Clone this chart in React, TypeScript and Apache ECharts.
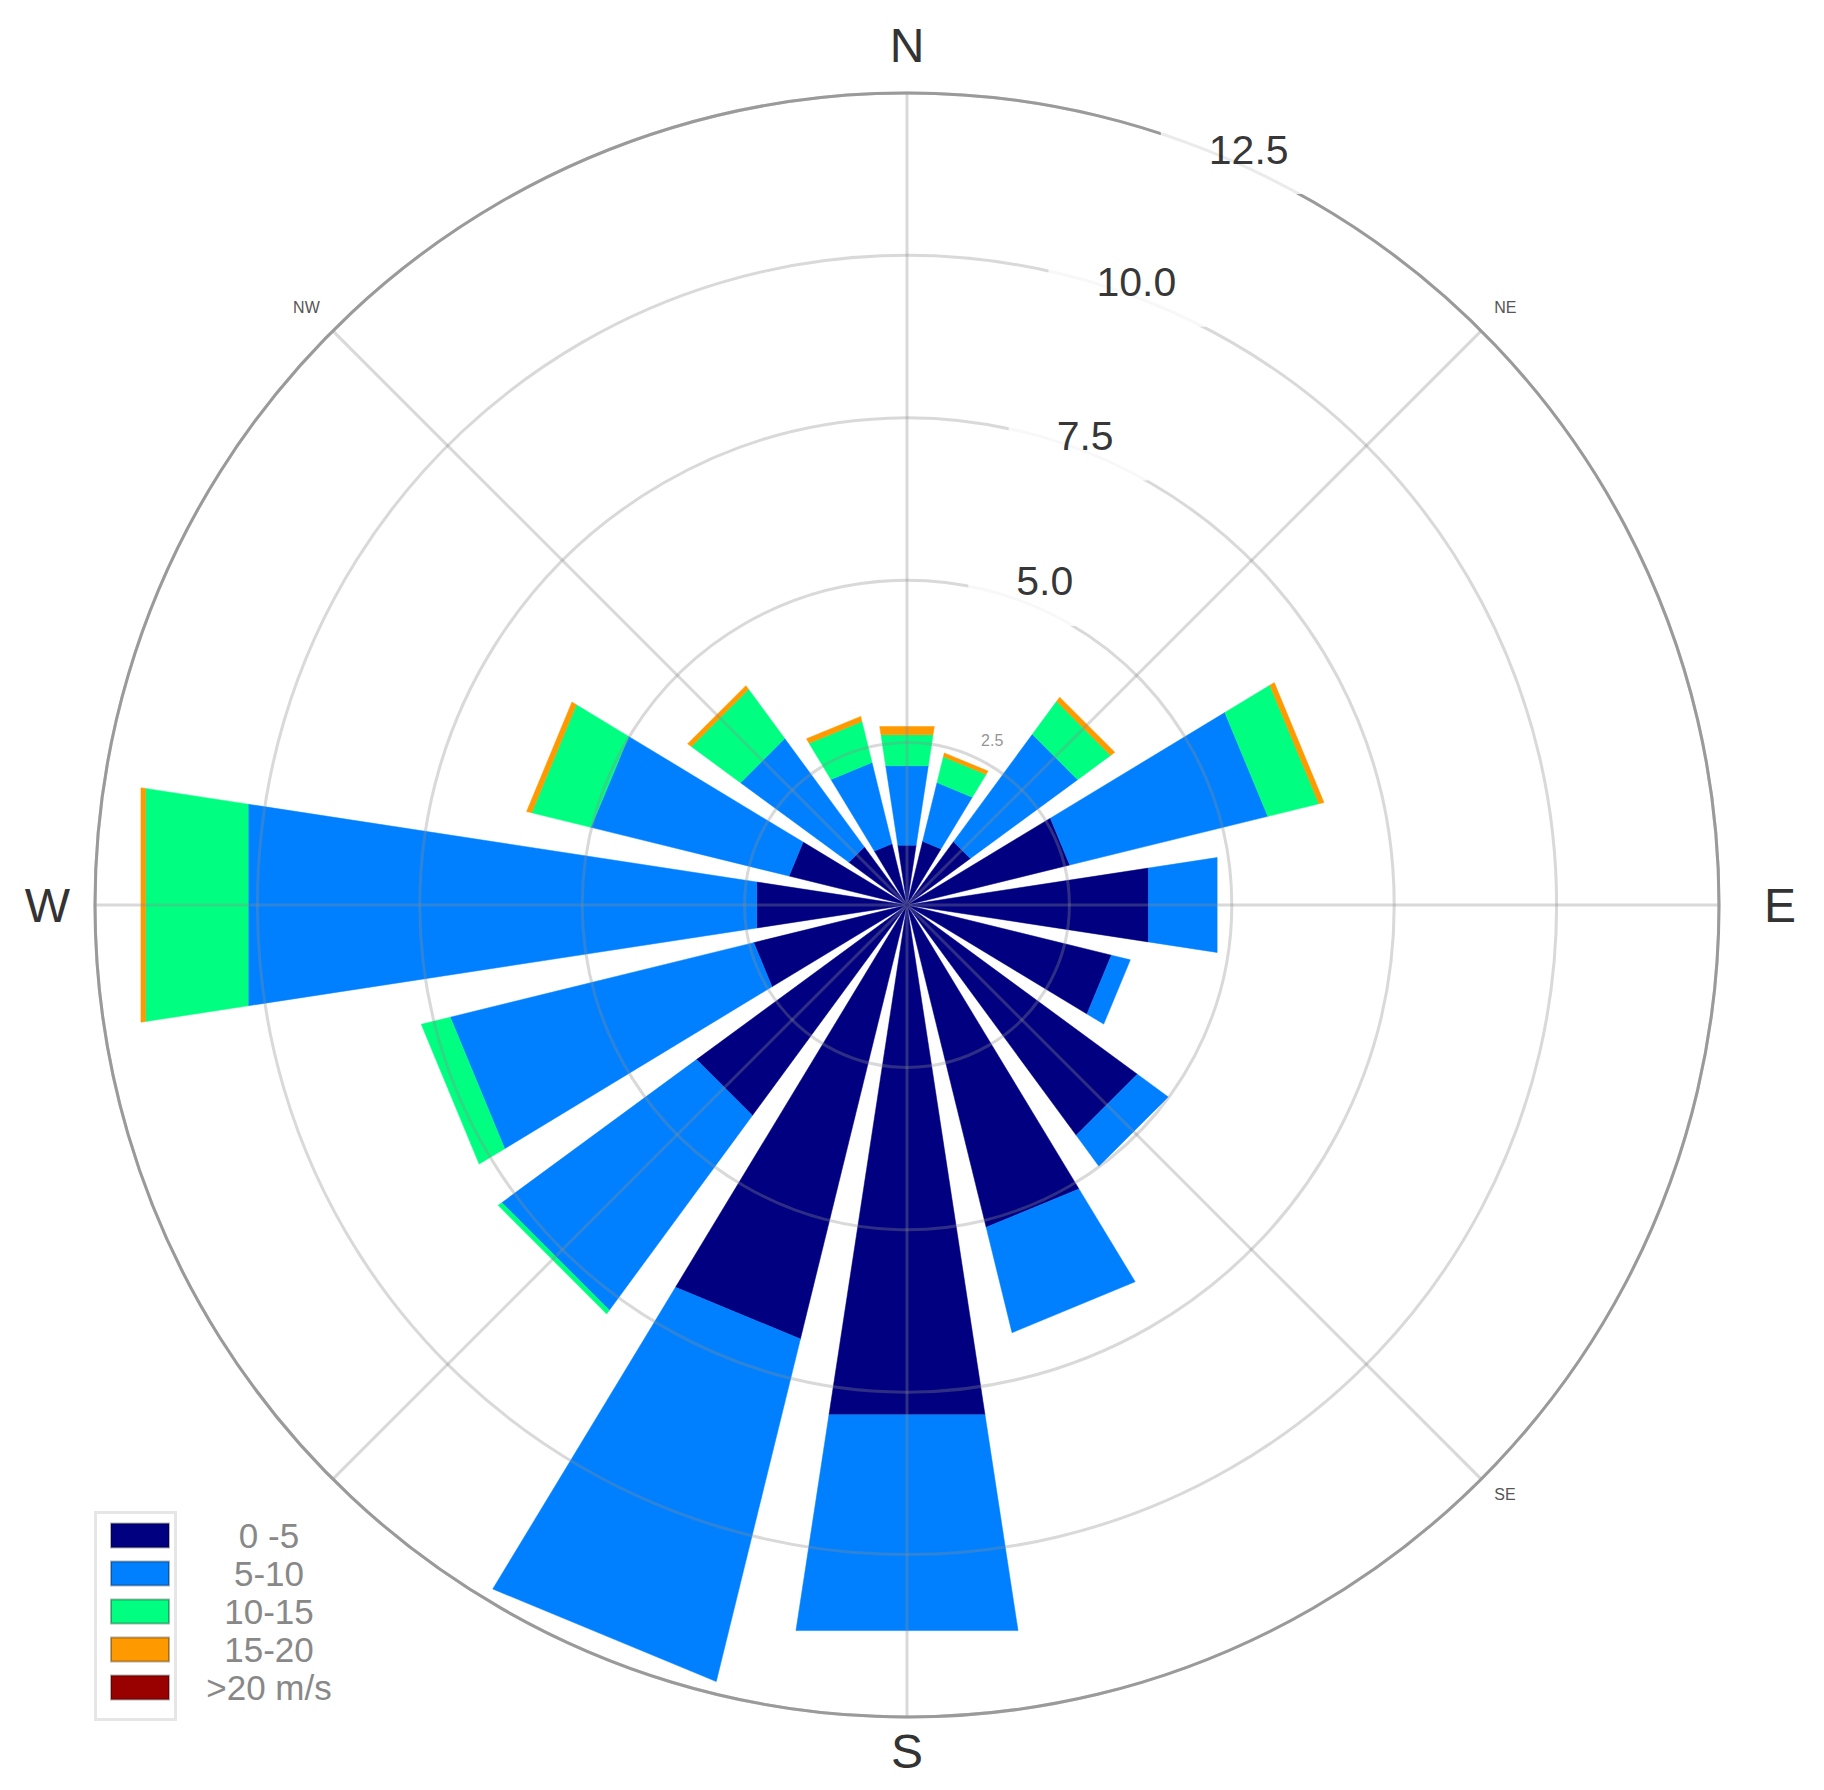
import React, { useEffect, useRef } from 'react';
import * as echarts from 'echarts';

// ---- data ----
const directions = ['N', 'NNE', 'NE', 'ENE', 'E', 'ESE', 'SE', 'SSE', 'S', 'SSW', 'SW', 'WSW', 'W', 'WNW', 'NW', 'NNW'];
const speedClasses = ['0 -5', '5-10', '10-15', '15-20', '>20 m/s'];
const speed0to5 = [0.93, 1.01, 1.21, 2.58, 3.76, 3.24, 4.4, 5.11, 7.94, 6.88, 4.02, 2.43, 2.34, 1.87, 1.11, 0.97];
const speed5to10 = [1.24, 0.93, 2.05, 3.14, 1.07, 0.3, 0.59, 1.67, 3.36, 5.43, 3.72, 4.81, 7.92, 3.14, 2.07, 1.29];
const speed10to15 = [0.48, 0.41, 0.63, 0.81, 0, 0, 0, 0, 0, 0, 0.07, 0.46, 1.6, 0.94, 0.94, 0.65];
const speed15to20 = [0.13, 0.06, 0.08, 0.08, 0, 0, 0, 0, 0, 0, 0, 0, 0.07, 0.08, 0.07, 0.08];
const speedOver20 = [0, 0, 0, 0, 0, 0, 0, 0, 0, 0, 0, 0, 0, 0, 0, 0];
const radiusTicks = [2.5, 5.0, 7.5, 10.0, 12.5];
const compassLabels = ['N', 'NE', 'E', 'SE', 'S', '', 'W', 'NW'];

// ---- layout / style ----
const classColors = ['#000080', '#0080ff', '#00ff80', '#ff9900', '#990000'];
const sectorStep = 360 / directions.length;
const halfWidth = 8.7; // degrees
const RADIUS_MAX = 12.5;
const POLAR_RADIUS = 812;
const radiusLabelR = [2.85, 5.42, 7.73, 10.22, 12.77];
const radiusLabelAngle = [27.4, 23.2, 20.9, 20.3, 24.4];
const labelShiftX = -8;
const FONT = '"Liberation Sans", Arial, sans-serif';

const allClasses = [speed0to5, speed5to10, speed10to15, speed15to20, speedOver20];

function buildOption() {
  const cumulative = directions.map(() => 0);
  const customSeries = allClasses.map((values, ci) => {
    const data = values.map((v, di) => {
      const base = cumulative[di];
      const top = base + v;
      cumulative[di] = top;
      return [di * sectorStep, base, top];
    });
    const color = classColors[ci];
    return {
      type: 'custom',
      name: speedClasses[ci],
      coordinateSystem: 'polar',
      z: 2,
      itemStyle: { color },
      encode: { angle: 0, radius: 2 },
      data,
      renderItem: (params: any, api: any) => {
        const ang = api.value(0);
        const r0 = api.value(1);
        const r1 = api.value(2);
        if (!(r1 - r0 > 0)) return null;
        const p = (r: number, a: number) => {
          const c = api.coord([r, a]);
          return [c[0], c[1]];
        };
        const pts = [p(r0, ang - halfWidth), p(r0, ang + halfWidth), p(r1, ang + halfWidth), p(r1, ang - halfWidth)];
        return {
          type: 'polygon',
          shape: { points: pts },
          style: { fill: color, stroke: color, lineWidth: 0.5 },
        };
      },
    };
  });

  const pxPerUnit = POLAR_RADIUS / RADIUS_MAX;
  const labelData = radiusTicks.map((v, i) => {
    const small = i === 0;
    const pad = small ? [2, 3, 2, 3] : [8, 34, 40, 48];
    const r = Math.min(radiusLabelR[i], RADIUS_MAX);
    const extra = (radiusLabelR[i] - r) * pxPerUnit;
    const a = (radiusLabelAngle[i] * Math.PI) / 180;
    return {
      value: [r, radiusLabelAngle[i]],
      label: {
        show: true,
        position: 'inside',
        formatter: v.toFixed(1),
        fontSize: small ? 16 : 41,
        fontFamily: FONT,
        color: small ? '#777' : '#000',
        backgroundColor: '#fff',
        padding: pad,
        offset: [extra * Math.sin(a) + (small ? 0 : labelShiftX), -extra * Math.cos(a)],
      },
    };
  });

  return {
    animation: false,
    backgroundColor: '#ffffff',
    polar: { center: [907, 905], radius: POLAR_RADIUS },
    angleAxis: {
      type: 'value',
      min: 0,
      max: 360,
      interval: 45,
      startAngle: 90,
      clockwise: true,
      z: 5,
      axisLine: { show: true, lineStyle: { color: '#9a9a9a', width: 3 } },
      axisTick: { show: false },
      axisLabel: {
        margin: 10,
        formatter: (v: number) => {
          if (v >= 360) return '';
          const name = compassLabels[Math.round(v / 45)];
          if (!name) return '';
          if (name === 'N') return '{n|N}';
          if (name === 'E') return '{e|E}';
          if (name === 'S') return '{s|S}';
          if (name === 'W') return '{w|W}';
          return '{sm|' + name + '}';
        },
        rich: {
          n: { fontSize: 48, color: '#333', fontFamily: FONT, padding: [0, 0, 14, 0] },
          e: { fontSize: 48, color: '#333', fontFamily: FONT, padding: [0, 0, 0, 35] },
          s: { fontSize: 48, color: '#333', fontFamily: FONT, padding: [0, 0, 0, 0] },
          w: { fontSize: 48, color: '#333', fontFamily: FONT, padding: [0, 15, 0, 0] },
          sm: { fontSize: 16, color: '#555', fontFamily: FONT, padding: [0, 6, 8, 6] },
        },
      },
      splitLine: { show: true, lineStyle: { color: 'rgba(140,140,140,0.33)', width: 3 } },
    },
    radiusAxis: {
      type: 'value',
      min: 0,
      max: RADIUS_MAX,
      interval: 2.5,
      z: 5,
      axisLine: { show: false },
      axisTick: { show: false },
      axisLabel: { show: false },
      splitLine: { show: true, lineStyle: { color: 'rgba(140,140,140,0.33)', width: 3 } },
    },
    legend: {
      orient: 'vertical',
      left: 105,
      top: 1513,
      itemWidth: 58,
      itemHeight: 24,
      itemGap: 3,
      icon: 'rect',
      data: speedClasses,
      itemStyle: { borderColor: 'rgba(0,0,0,0.3)', borderWidth: 2 },
      formatter: (name: string) => '{t|' + name + '}',
      textStyle: {
        rich: {
          t: { width: 190, align: 'center', fontSize: 35, color: '#888', fontFamily: FONT, lineHeight: 24 },
        },
      },
    },
    graphic: [
      {
        type: 'rect',
        left: 93,
        top: 1510,
        shape: { width: 80, height: 207 },
        style: { fill: 'none', stroke: '#e6e6e6', lineWidth: 3 },
        z: 1,
      },
    ],
    series: [
      ...customSeries,
      {
        type: 'scatter',
        coordinateSystem: 'polar',
        symbolSize: 0,
        z: 10,
        silent: true,
        data: labelData,
      },
    ],
  };
}

export default function App() {
  const ref = useRef<HTMLDivElement>(null);
  useEffect(() => {
    if (!ref.current) return;
    const chart = echarts.init(ref.current, null, { renderer: 'svg' });
    chart.setOption(buildOption() as any);
    return () => chart.dispose();
  }, []);
  return (
    <div
      ref={ref}
      style={{ position: 'fixed', left: 0, top: 0, width: 1824, height: 1790, background: '#fff' }}
    />
  );
}
